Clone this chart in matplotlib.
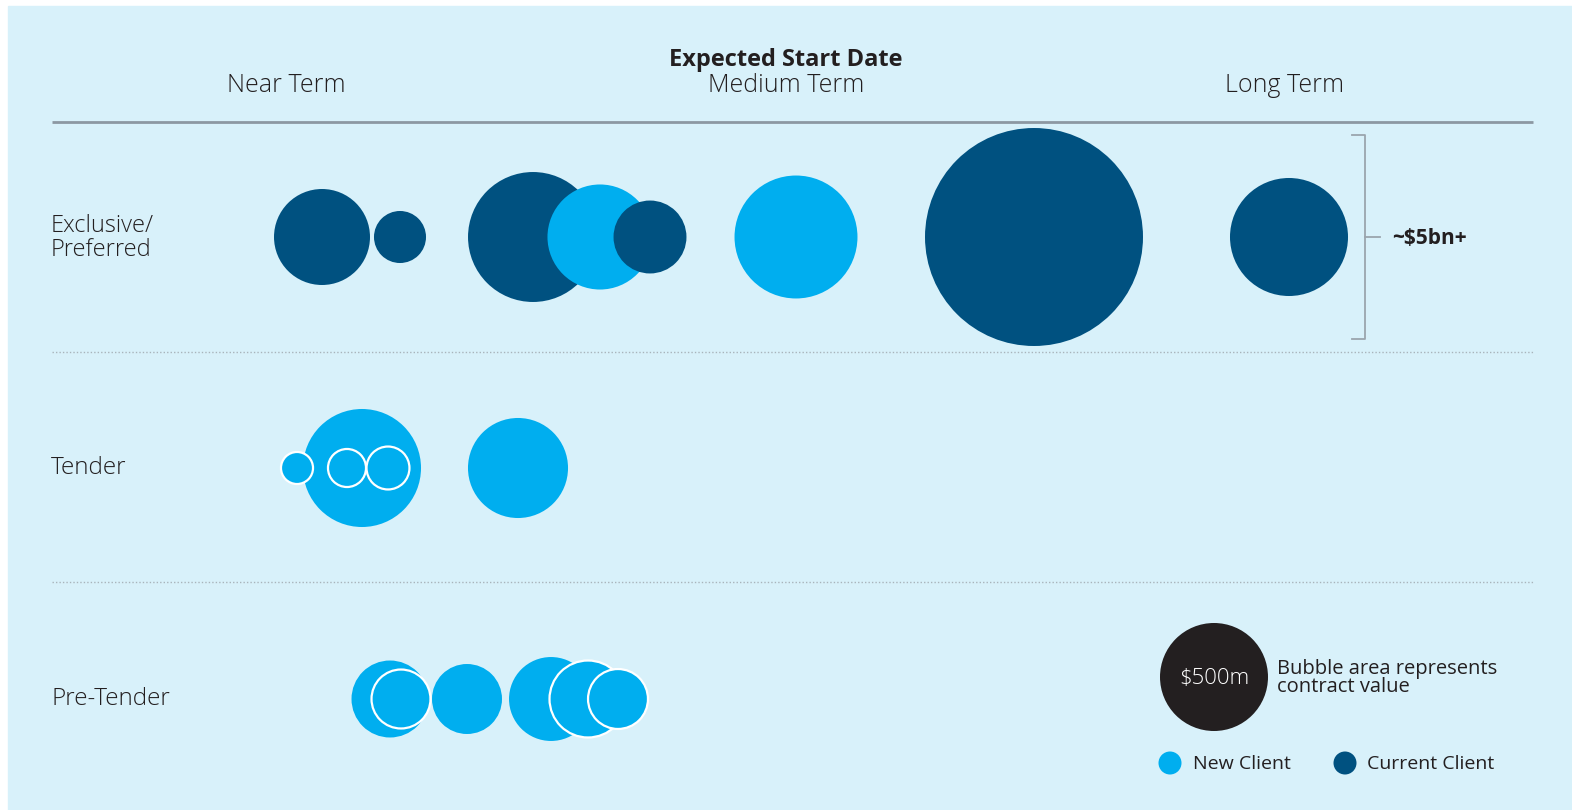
import matplotlib.pyplot as plt
from matplotlib.patches import Circle
import numpy as np

plt.rcParams['font.family'] = ['Open Sans', 'DejaVu Sans']

# contract values in $m, bubble area ~ value
term_labels = ['Near Term', 'Medium Term', 'Long Term']
row_labels = ['Exclusive/\nPreferred', 'Tender', 'Pre-Tender']

excl_values = [395, 116, 724, 473, 228, 648, 2037, 597]
excl_client = ['current', 'current', 'current', 'new', 'current', 'new', 'current', 'current']

tender_values = [597, 44, 62, 79, 429]
tender_client = ['new'] * 5

pre_values = [254, 149, 210, 302, 254, 154]
pre_client = ['new'] * 6

legend_value = 500
total_label = '~$5bn+'

# layout (pixels)
excl_x = [322, 400, 533, 600, 650, 796, 1034, 1289]
excl_edge = [False] * 8
tender_x = [362, 297, 347, 388, 518]
tender_edge = [False, True, True, True, False]
pre_x = [390, 401, 467, 551, 588, 618]
pre_edge = [False, True, False, False, True, True]
row_y = [237, 468, 699]

bg = '#d8f1fa'
colors = {'new': '#00aeef', 'current': '#005180'}
text_col = '#231f20'
R500 = 54.0


def radius(v):
    return R500 * np.sqrt(v / legend_value)


fig = plt.figure(figsize=(15.72, 8.10), dpi=100)
fig.patch.set_facecolor('white')
ax = fig.add_axes([0, 0, 1, 1])
ax.set_xlim(0, 1572)
ax.set_ylim(810, 0)
ax.axis('off')

# blue panel with small white margin top/left
ax.add_patch(plt.Rectangle((8, 6), 1572, 810, color=bg, zorder=0))

# headers
ax.text(786, 60, 'Expected Start Date', ha='center', va='center', fontsize=17,
        fontweight='bold', color=text_col)
for x, lab in zip([286, 786, 1285], term_labels):
    ax.text(x, 86, lab, ha='center', va='center', fontsize=18, fontweight='light',
            color=text_col)
ax.plot([52, 1533], [122, 122], color='#8c98a2', lw=2, solid_capstyle='butt')
for y in [352, 582]:
    ax.plot([52, 1533], [y, y], color='#a9b4bb', lw=1, ls=(0, (1, 1.5)))

# row labels
ax.text(51, 238, row_labels[0], ha='left', va='center', fontsize=17, fontweight='light',
        color=text_col, linespacing=0.95)
ax.text(51, 468, row_labels[1], ha='left', va='center', fontsize=17.5, fontweight='light',
        color=text_col)
ax.text(51, 699, row_labels[2], ha='left', va='center', fontsize=17.5, fontweight='light',
        color=text_col)


def draw_row(xs, vals, clients, edges, y):
    for i, (x, v, c, e) in enumerate(zip(xs, vals, clients, edges)):
        circ = Circle((x, y), radius(v), facecolor=colors[c],
                      edgecolor='white' if e else 'none', lw=1.6 if e else 0,
                      zorder=2 + i)
        ax.add_patch(circ)


draw_row(excl_x, excl_values, excl_client, excl_edge, row_y[0])
draw_row(tender_x, tender_values, tender_client, tender_edge, row_y[1])
draw_row(pre_x, pre_values, pre_client, pre_edge, row_y[2])

# bracket for the exclusive row total
bc = '#9aa5ad'
ax.plot([1352, 1365, 1365, 1352], [135, 135, 339, 339], color=bc, lw=1.3)
ax.plot([1365, 1380], [237, 237], color=bc, lw=1.3)
ax.text(1392, 238, total_label, ha='left', va='center', fontsize=15,
        fontweight='bold', color=text_col)

# legend
ax.add_patch(Circle((1214, 677), radius(legend_value), facecolor=text_col, zorder=2))
ax.text(1214, 678, '$%dm' % legend_value, ha='center', va='center', fontsize=16,
        fontweight='light', color='white', zorder=3)
ax.text(1277, 678, 'Bubble area represents\ncontract value', ha='left', va='center',
        fontsize=14.5, color=text_col, linespacing=0.9)
ax.add_patch(Circle((1170, 763), 11.5, facecolor=colors['new']))
ax.text(1193, 764, 'New Client', ha='left', va='center', fontsize=14, color=text_col)
ax.add_patch(Circle((1345, 763), 11.5, facecolor=colors['current']))
ax.text(1367, 764, 'Current Client', ha='left', va='center', fontsize=14, color=text_col)

fig.savefig('out.png', dpi=100, facecolor=fig.get_facecolor())
